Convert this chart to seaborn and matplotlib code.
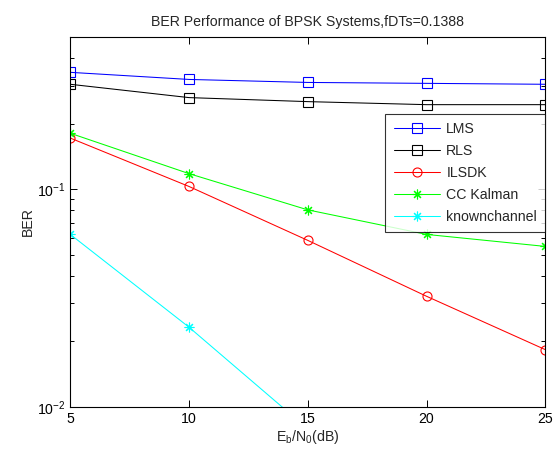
import numpy as np
import pandas as pd
import matplotlib
matplotlib.use('Agg')
import matplotlib.pyplot as plt
import seaborn as sns
from matplotlib.ticker import LogLocator, NullFormatter

# ── Data ───────────────────────────────────────────────────────────────────────
snr_db = [5, 10, 15, 20, 25]
ber_lms = [0.345, 0.320, 0.310, 0.307, 0.304]
ber_rls = [0.304, 0.264, 0.253, 0.245, 0.245]
ber_ilsdk = [0.172, 0.103, 0.0582, 0.0322, 0.0183]
ber_kalman = [0.181, 0.118, 0.0804, 0.062, 0.0546]
ber_known = [0.062, 0.0232, 0.0079, 0.0025, 0.0008]

series_names = ['LMS', 'RLS', 'ILSDK', 'CC Kalman', 'knownchannel']
series_values = [ber_lms, ber_rls, ber_ilsdk, ber_kalman, ber_known]
series_colors = ['#0000FF', '#000000', '#FF0000', '#00FF00', '#00FFFF']
series_markers = ['s', 's', 'o', (8, 2, 0), (8, 2, 0)]

df = pd.DataFrame({
    'snr': np.tile(snr_db, len(series_names)),
    'ber': np.concatenate(series_values),
    'method': np.repeat(series_names, len(snr_db)),
})

# ── Style ──────────────────────────────────────────────────────────────────────
FS = 10.2
sns.set_style('ticks')
plt.rcParams['font.family'] = ['Liberation Sans', 'DejaVu Sans']
plt.rcParams['mathtext.fontset'] = 'custom'
plt.rcParams['mathtext.rm'] = 'Liberation Sans'
plt.rcParams['mathtext.default'] = 'regular'
plt.rcParams['font.size'] = FS

fig = plt.figure(figsize=(5.54, 4.49), dpi=100)
ax = fig.add_axes([70.3 / 554, (449 - 406.7) / 449, 475 / 554, 369.4 / 449])

for name, color, marker in zip(series_names, series_colors, series_markers):
    sub = df[df['method'] == name]
    filled = not isinstance(marker, str)
    sns.lineplot(data=sub, x='snr', y='ber', ax=ax, color=color, label=name,
                 marker=marker, markersize=7 if filled else 6.5,
                 markerfacecolor=color if filled else 'none',
                 markeredgecolor=color, markeredgewidth=0.8,
                 linewidth=0.75)

ax.set_yscale('log')
ax.set_xlim(5, 25)
ax.set_ylim(0.01, 0.5)
ax.set_xticks(snr_db)
ax.yaxis.set_major_locator(LogLocator(base=10, numticks=10))
ax.yaxis.set_minor_locator(LogLocator(base=10, subs=np.arange(2, 10), numticks=20))
ax.yaxis.set_minor_formatter(NullFormatter())

ax.tick_params(which='both', direction='in', top=True, right=True,
               labelsize=FS, colors='black', width=0.7)
ax.tick_params(which='major', length=5)
ax.tick_params(which='minor', length=3)
for s in ax.spines.values():
    s.set_linewidth(0.8)
    s.set_color('black')

ax.set_title('BER Performance of BPSK Systems,fDTs=0.1388', fontsize=FS, pad=8)
ax.set_xlabel('E$_b$/N$_0$(dB)', fontsize=FS, labelpad=2)
ax.set_ylabel('BER', fontsize=FS, labelpad=1)

leg = ax.legend(loc='upper right', bbox_to_anchor=(1.0, 0.792), frameon=True,
                fancybox=False, edgecolor='black', fontsize=FS,
                handlelength=3.3, handletextpad=0.42, labelspacing=0.55,
                borderpad=0.58, borderaxespad=0)
leg.get_frame().set_linewidth(0.8)

fig.savefig('out.png', dpi=100)
